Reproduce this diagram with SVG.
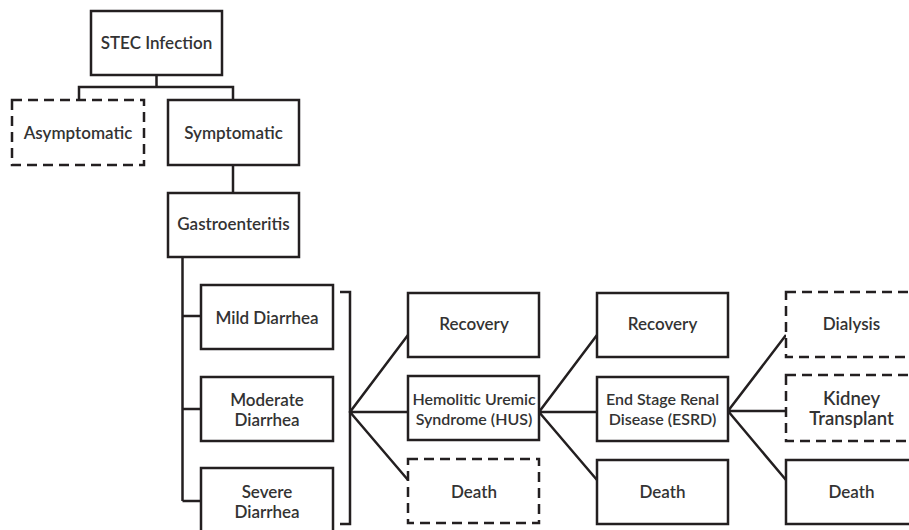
<svg xmlns="http://www.w3.org/2000/svg" width="909" height="530" viewBox="0 0 909 530">
<style>
.b{fill:#fff;stroke:#231f20;stroke-width:2.5}
.d{fill:#fff;stroke:#231f20;stroke-width:2.5;stroke-dasharray:10 6}
.c{fill:none;stroke:#231f20;stroke-width:2.5}
text{font-family:Lato,"Open Sans",sans-serif;font-weight:600;fill:#333;text-anchor:middle;dominant-baseline:central;font-size:17px}
.s{font-size:16px}
.l{font-size:18.5px}
</style>
<rect width="909" height="530" fill="#fff"/>
<g id="connectors">
<path class="c" d="M156.5 75V87M79 100V87H233V100"/>
<path class="c" d="M233 165V193"/>
<path class="c" d="M182.5 257V501M182.5 316H201M182.5 409H201M182.5 501H201"/>
<path class="c" d="M340 292H350V524H340"/>
<path class="c" d="M408 335L350 412L408 480M350 412H408"/>
<path class="c" d="M597 335L539 412L597 480M539 412H597"/>
<path class="c" d="M786 335L728 411L786 480M728 411H786"/>
</g>
<g id="stec"><rect class="b" x="91" y="11" width="131" height="64"/><text x="156.5" y="42">STEC Infection</text></g>
<g id="asymptomatic"><rect class="d" x="12" y="100" width="132" height="65"/><text x="78" y="132">Asymptomatic</text></g>
<g id="symptomatic"><rect class="b" x="168" y="100" width="131" height="65"/><text x="233.5" y="132">Symptomatic</text></g>
<g id="gastro"><rect class="b" x="168" y="193" width="131" height="64"/><text x="233.5" y="223">Gastroenteritis</text></g>
<g id="mild"><rect class="b" x="201" y="285" width="132" height="64"/><text x="267" y="317">Mild Diarrhea</text></g>
<g id="moderate"><rect class="b" x="201" y="377" width="132" height="64"/><text x="267" y="399">Moderate</text><text x="267" y="419">Diarrhea</text></g>
<g id="severe"><rect class="b" x="201" y="468" width="132" height="64"/><text x="267" y="491">Severe</text><text x="267" y="511">Diarrhea</text></g>
<g id="recovery1"><rect class="b" x="408" y="293" width="131" height="64"/><text x="474" y="323">Recovery</text></g>
<g id="hus"><rect class="b" x="408" y="376" width="131" height="64"/><text class="s" x="474" y="398">Hemolitic Uremic</text><text class="s" x="474" y="418">Syndrome (HUS)</text></g>
<g id="death1"><rect class="d" x="408" y="459" width="131" height="64"/><text x="474" y="491">Death</text></g>
<g id="recovery2"><rect class="b" x="597" y="293" width="131" height="64"/><text x="662.5" y="323">Recovery</text></g>
<g id="esrd"><rect class="b" x="597" y="377" width="131" height="64"/><text class="s" x="662.5" y="398">End Stage Renal</text><text class="s" x="662.5" y="418">Disease (ESRD)</text></g>
<g id="death2"><rect class="b" x="597" y="460" width="131" height="64"/><text x="662.5" y="491">Death</text></g>
<g id="dialysis"><rect class="d" x="786" y="292" width="131" height="65"/><text x="851.5" y="323">Dialysis</text></g>
<g id="kidney"><rect class="d" x="786" y="375" width="131" height="66"/><text class="l" x="851.5" y="398">Kidney</text><text class="l" x="851.5" y="418">Transplant</text></g>
<g id="death3"><rect class="b" x="786" y="460" width="131" height="64"/><text x="851.5" y="491">Death</text></g>
</svg>
